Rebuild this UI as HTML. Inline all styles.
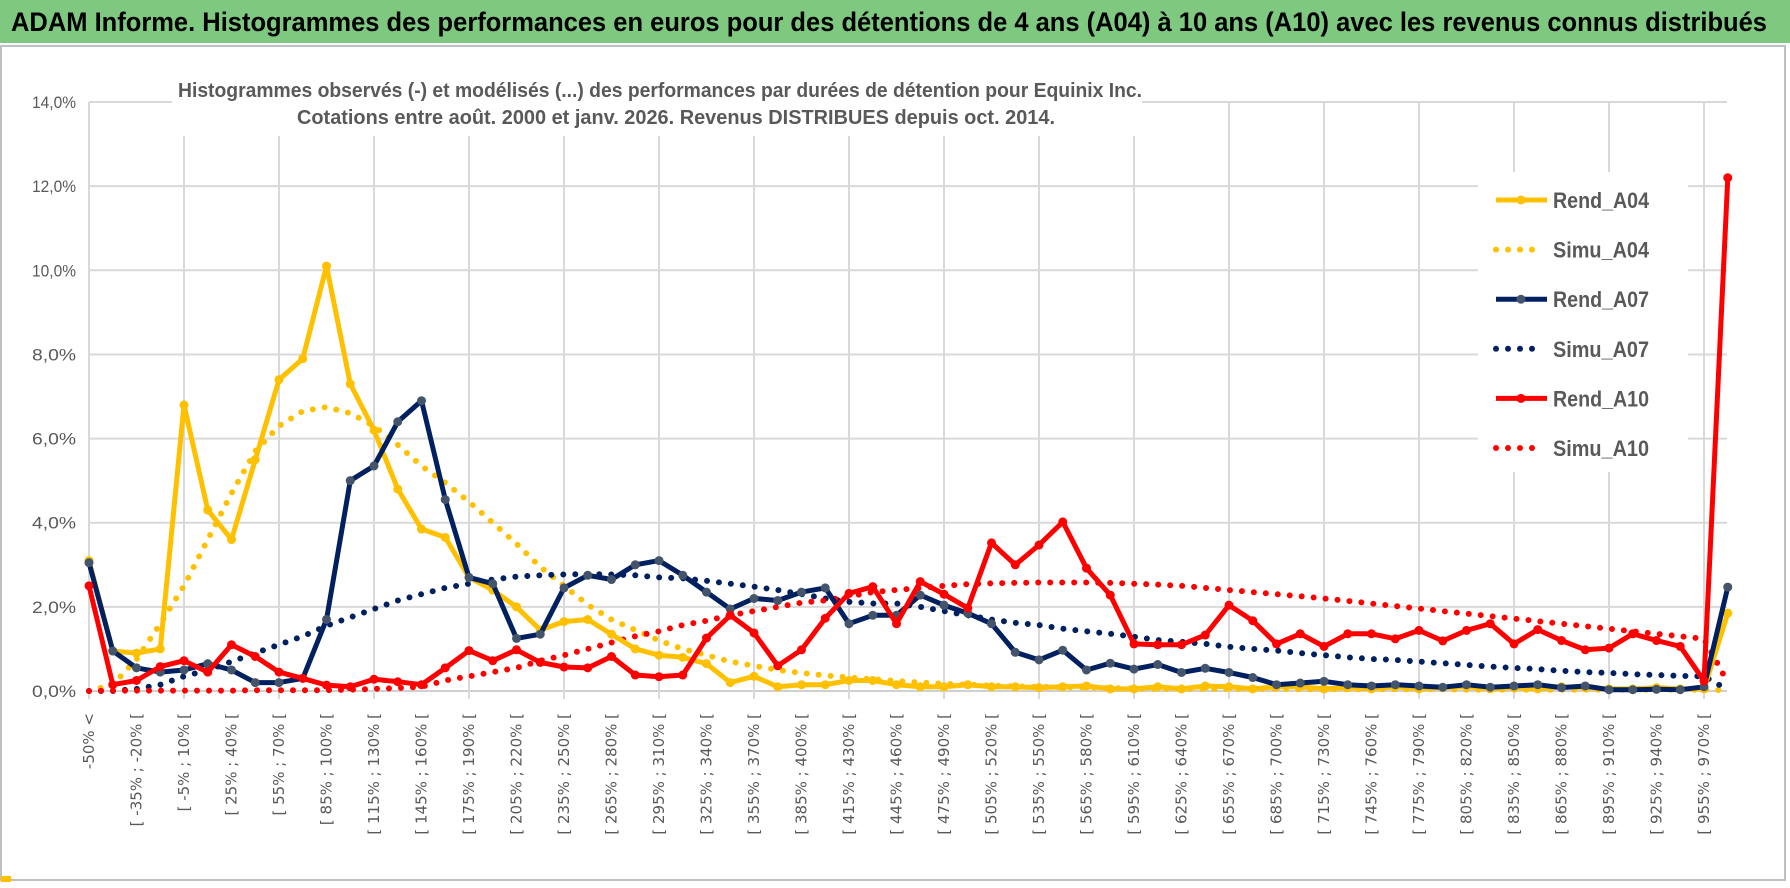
<!DOCTYPE html>
<html><head><meta charset="utf-8"><style>
html,body{margin:0;padding:0;background:#fff;}
svg{display:block;}
</style></head><body>
<svg id="chart" width="1790" height="888" viewBox="0 0 1790 888" xmlns="http://www.w3.org/2000/svg">
<rect x="0" y="0" width="1790" height="888" fill="#fff"/>
<rect x="0" y="0" width="1790" height="43" fill="#7ec87f"/>
<text x="11" y="31" font-family="'Liberation Sans', sans-serif" font-weight="bold" font-size="27" fill="#000" textLength="1756" lengthAdjust="spacingAndGlyphs">ADAM Informe. Histogrammes des performances en euros pour des détentions de 4 ans (A04) à 10 ans (A10) avec les revenus connus distribués</text>
<rect x="1" y="46" width="1784" height="834" fill="none" stroke="#bfbfbf" stroke-width="2"/>
<rect x="1" y="876" width="10" height="6" fill="#ffc000"/>
<g id="grid"></g>
<rect x="172" y="60" width="970" height="76" fill="#fff"/>
<rect x="1478" y="172" width="210" height="300" fill="#fff"/>
<text x="660" y="97" text-anchor="middle" font-family="'Liberation Sans', sans-serif" font-weight="bold" font-size="20" fill="#595959" textLength="964" lengthAdjust="spacingAndGlyphs">Histogrammes observés (-) et modélisés (...) des performances par durées de détention pour Equinix Inc.</text>
<text x="676" y="124" text-anchor="middle" font-family="'Liberation Sans', sans-serif" font-weight="bold" font-size="20" fill="#595959" textLength="758" lengthAdjust="spacingAndGlyphs">Cotations entre août. 2000 et janv. 2026. Revenus DISTRIBUES depuis oct. 2014.</text>
<g id="yticks"></g>
<g id="xticks"></g>
<g id="series"></g>
<g id="legend"></g>
</svg>
<script>
const categories = (function(){ const c=["-50% <"]; for(let i=1;i<70;i++){const a=-50+15*(i-1); c.push("[ "+a+"% ; "+(a+15)+"% [");} return c; })();
const yTicks = [0,2,4,6,8,10,12,14];
const rendA04 = [3.1,0.95,0.9,1.0,6.8,4.3,3.6,5.5,7.4,7.9,10.1,7.3,6.2,4.8,3.85,3.65,2.7,2.4,2.0,1.45,1.65,1.7,1.35,1.0,0.85,0.8,0.65,0.2,0.35,0.1,0.15,0.15,0.25,0.25,0.15,0.1,0.1,0.15,0.1,0.1,0.08,0.1,0.12,0.05,0.05,0.1,0.05,0.12,0.1,0.05,0.1,0.1,0.05,0.08,0.05,0.1,0.05,0.08,0.1,0.05,0.08,0.05,0.1,0.08,0.05,0.05,0.08,0.05,0.05,1.85];
const simuA04 = [0,0.15,0.75,1.6,2.5,3.6,4.7,5.7,6.3,6.65,6.75,6.6,6.3,5.85,5.35,4.95,4.5,4.0,3.5,2.95,2.5,2.05,1.7,1.45,1.2,1.0,0.85,0.7,0.6,0.5,0.43,0.37,0.32,0.28,0.24,0.2,0.17,0.15,0.13,0.11,0.1,0.09,0.08,0.07,0.06,0.05,0.05,0.05,0.05,0.05,0.05,0.04,0.04,0.04,0.04,0.04,0.04,0.04,0.03,0.03,0.03,0.03,0.03,0.03,0.03,0.03,0.03,0.03,0.03,0.02];
const rendA07 = [3.05,0.95,0.55,0.45,0.5,0.65,0.5,0.2,0.2,0.3,1.7,5.0,5.35,6.4,6.9,4.55,2.7,2.55,1.25,1.35,2.45,2.75,2.65,3.0,3.1,2.75,2.35,1.95,2.2,2.15,2.35,2.45,1.6,1.8,1.8,2.28,2.04,1.85,1.6,0.92,0.74,0.97,0.5,0.66,0.52,0.63,0.44,0.54,0.44,0.32,0.15,0.19,0.23,0.15,0.12,0.15,0.12,0.09,0.15,0.09,0.12,0.15,0.08,0.12,0.03,0.03,0.04,0.03,0.1,2.47];
const simuA07 = [0,0,0.05,0.15,0.35,0.5,0.7,0.9,1.1,1.3,1.55,1.75,1.95,2.15,2.3,2.45,2.55,2.65,2.72,2.75,2.77,2.78,2.77,2.75,2.7,2.68,2.62,2.55,2.48,2.4,2.3,2.2,2.12,2.08,2.08,2.0,1.9,1.8,1.7,1.62,1.57,1.48,1.42,1.36,1.29,1.21,1.17,1.12,1.05,1.0,0.96,0.9,0.85,0.8,0.76,0.74,0.7,0.66,0.62,0.58,0.55,0.52,0.48,0.45,0.43,0.4,0.38,0.36,0.35,0.03];
const rendA10 = [2.5,0.15,0.25,0.58,0.72,0.45,1.1,0.82,0.45,0.3,0.14,0.1,0.28,0.22,0.15,0.55,0.96,0.72,0.98,0.68,0.57,0.55,0.82,0.38,0.34,0.38,1.26,1.8,1.38,0.6,0.98,1.73,2.32,2.48,1.6,2.6,2.3,1.97,3.52,3.0,3.47,4.02,2.92,2.28,1.12,1.1,1.1,1.33,2.04,1.67,1.12,1.36,1.06,1.36,1.36,1.24,1.44,1.19,1.44,1.6,1.12,1.46,1.2,0.98,1.02,1.36,1.2,1.06,0.24,12.2];
const simuA10 = [0,0.01,0.01,0.01,0.01,0.01,0.01,0.02,0.02,0.02,0.02,0.03,0.05,0.07,0.1,0.25,0.35,0.45,0.55,0.72,0.85,1.0,1.15,1.3,1.42,1.57,1.67,1.8,1.9,2.0,2.1,2.15,2.25,2.35,2.4,2.45,2.5,2.54,2.56,2.57,2.58,2.58,2.58,2.57,2.55,2.53,2.5,2.45,2.4,2.35,2.3,2.25,2.2,2.14,2.08,2.02,1.96,1.9,1.84,1.78,1.72,1.66,1.6,1.54,1.48,1.42,1.36,1.3,1.24,0.2];

const NS="http://www.w3.org/2000/svg";
const X0=89, DX=23.75, Y0=691, PXPCT=42.07;
function xs(i){return X0+i*DX;}
function ys(v){return Y0-v*PXPCT;}
function mk(tag,attrs,parent){const e=document.createElementNS(NS,tag);for(const k in attrs)e.setAttribute(k,attrs[k]);parent.appendChild(e);return e;}

const grid=document.getElementById('grid');
yTicks.forEach(t=>{
  const l=mk('line',{x1:X0,x2:1727,y1:ys(t),y2:ys(t),stroke:t===0?'#d0d0d0':'#d9d9d9','stroke-width':2},grid);
  
  
});
for(let i=4;i<categories.length;i+=4){
  const l=mk('line',{x1:xs(i),x2:xs(i),y1:ys(14),y2:ys(0)+8,stroke:'#d9d9d9','stroke-width':2},grid);
  
  
}
mk('line',{x1:X0,x2:X0,y1:ys(14),y2:ys(0)+8,stroke:'#d9d9d9','stroke-width':2},grid);

const yt=document.getElementById('yticks');
yTicks.forEach(t=>{
  const tx=mk('text',{x:76,y:ys(t)+6,'text-anchor':'end','font-family':"'Liberation Sans', sans-serif",'font-size':17,fill:'#595959',textLength:44,lengthAdjust:'spacingAndGlyphs'},yt);
  tx.textContent=t.toFixed(1).replace('.',',')+'%';
  
  
});

const xt=document.getElementById('xticks');
categories.forEach((c,i)=>{
  if(i%2!==0) return;
  const x=xs(i)+5, y=713;
  const tx=mk('text',{x:x,y:y,transform:'rotate(-90 '+x+' '+y+')','text-anchor':'end','font-family':"'DejaVu Sans', sans-serif",'font-size':15,fill:'#595959'},xt);
  tx.textContent=c;
  
  
});

const sg=document.getElementById('series');
function pts(arr){return arr.map((v,i)=>xs(i).toFixed(1)+','+ys(v).toFixed(1)).join(' ');}
function dotted(arr,color,name){
  const p=mk('polyline',{points:pts(arr),fill:'none',stroke:color,'stroke-width':6,'stroke-linecap':'round','stroke-dasharray':'0 12'},sg);
  
  
}
function solid(arr,color,mcolor,name){
  const p=mk('polyline',{points:pts(arr),fill:'none',stroke:color,'stroke-width':5,'stroke-linejoin':'round'},sg);
  
  
  arr.forEach((v,i)=>{
    const c=mk('circle',{cx:xs(i),cy:ys(v),r:4.5,fill:mcolor},sg);
    
    
  });
}
dotted(simuA04,'#ffc000','simu-a04-line');
dotted(simuA07,'#002060','simu-a07-line');
dotted(simuA10,'#ff0000','simu-a10-line');
solid(rendA04,'#ffc000','#ffc000','rend-a04-line');
solid(rendA07,'#002060','#44546a','rend-a07-line');
solid(rendA10,'#ff0000','#ff0000','rend-a10-line');

const lg=document.getElementById('legend');
const entries=[['Rend_A04','#ffc000','#ffc000',false],['Simu_A04','#ffc000',null,true],['Rend_A07','#002060','#44546a',false],['Simu_A07','#002060',null,true],['Rend_A10','#ff0000','#ff0000',false],['Simu_A10','#ff0000',null,true]];
entries.forEach((e,k)=>{
  const y=200+k*49.6;
  const g=mk('g',{},lg);
  
  
  if(e[3]){
    mk('line',{x1:1496,x2:1544,y1:y,y2:y,stroke:e[1],'stroke-width':6,'stroke-linecap':'round','stroke-dasharray':'0 12'},g);
  } else {
    mk('line',{x1:1496,x2:1547,y1:y,y2:y,stroke:e[1],'stroke-width':5},g);
    mk('circle',{cx:1521,cy:y,r:4.5,fill:e[2]},g);
  }
  const t=mk('text',{x:1553,y:y+8,'font-family':"'Liberation Sans', sans-serif",'font-weight':'bold','font-size':22,fill:'#595959',textLength:96,lengthAdjust:'spacingAndGlyphs'},g);
  t.textContent=e[0];
});
</script>
</body></html>
